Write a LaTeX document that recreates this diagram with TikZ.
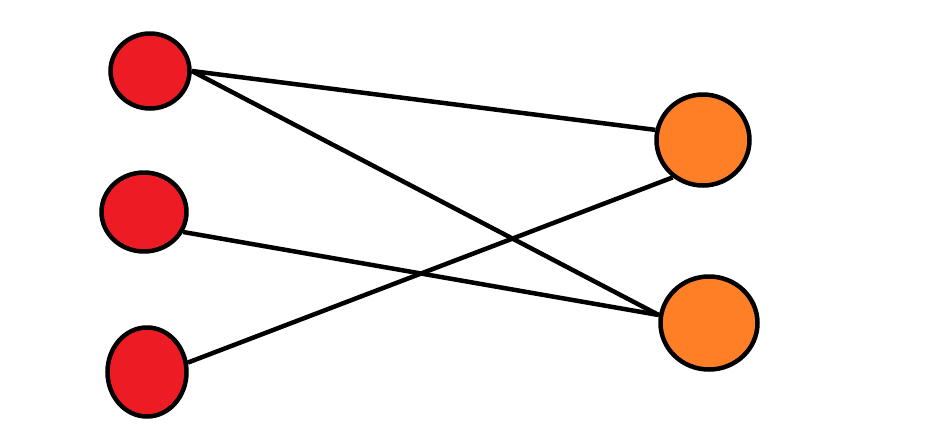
\documentclass[tikz,border=0pt]{standalone}
\usetikzlibrary{shapes.geometric}

\definecolor{paintred}{HTML}{ED1C24}
\definecolor{paintorange}{HTML}{FF7F27}

\begin{document}
\begin{tikzpicture}[
  x=1pt, y=-1pt,
  leftdot/.style={draw, ellipse, line width=4.5pt, fill=paintred, inner sep=0pt},
  rightdot/.style={draw, ellipse, line width=4.5pt, fill=paintorange, inner sep=0pt},
  link/.style={line width=4.5pt}
]
  \useasboundingbox (0,0) rectangle (940,440);

  \node[leftdot, minimum width=79pt, minimum height=75pt]  (l1) at (150,71)  {};
  \node[leftdot, minimum width=85pt, minimum height=79pt]  (l2) at (144,212) {};
  \node[leftdot, minimum width=79pt, minimum height=89pt]  (l3) at (147,372) {};

  \node[rightdot, minimum width=93pt, minimum height=91pt] (r1) at (703,140) {};
  \node[rightdot, minimum width=97pt, minimum height=93pt] (r2) at (709,323) {};

  % lines meet the borders, they do not aim at the centres
  \draw[link] (l1.east) -- (r1.168);
  \draw[link] (l1.east) -- (r2.171);
  \draw[link] (l2.-27)  -- (r2.171);
  \draw[link] (l3.13)   -- (r1.231);
\end{tikzpicture}
\end{document}
